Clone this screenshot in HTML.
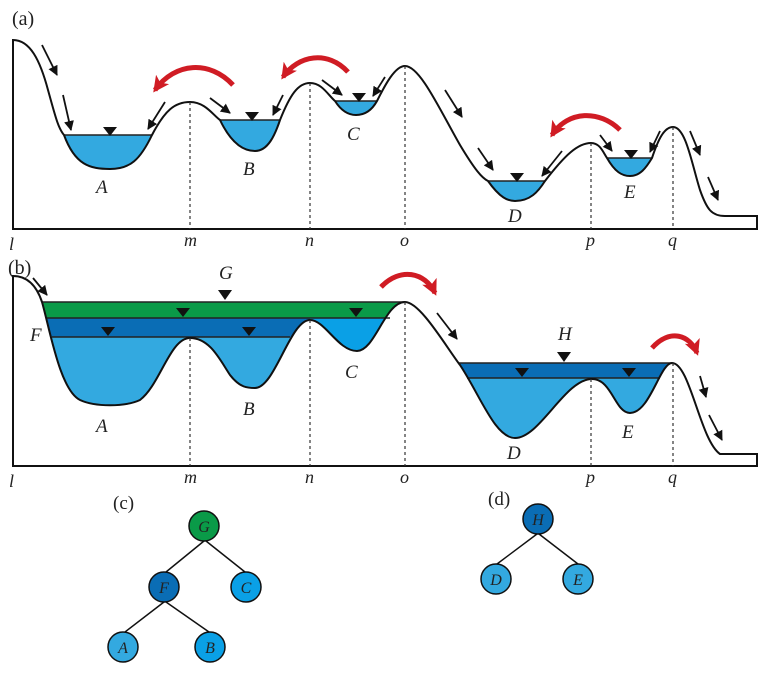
<!DOCTYPE html>
<html><head><meta charset="utf-8"><style>
html,body{margin:0;padding:0;background:#fff;}
svg{display:block;}
text{font-family:"Liberation Serif",serif;}
.it{font-style:italic;font-size:19px;fill:#222;}
.ax{font-style:italic;font-size:18px;fill:#222;}
</style></head><body>
<svg width="767" height="673" viewBox="0 0 767 673" xmlns="http://www.w3.org/2000/svg">
<defs>
<marker id="ah" markerWidth="10" markerHeight="10" refX="9" refY="5" orient="auto" markerUnits="userSpaceOnUse"><path d="M0,0 L10,5 L0,10 Z" fill="#111"/></marker>
<marker id="rh" markerWidth="18" markerHeight="18" refX="13" refY="9" orient="auto" markerUnits="userSpaceOnUse"><path d="M0,1 L16,9 L0,17 L4,9 Z" fill="#d01c24"/></marker>
<clipPath id="ca"><path d="M13,40 C30,40 40,60 48,90 C55,115 58,128 64,135 C75,165 90,169 110,169 C130,169 140,160 152,135 C165,110 175,102 190,102 C205,102 213,115 220,120 C232,145 245,151 255,151 C268,151 275,135 280,120 C290,95 298,83 310,83 C322,83 328,95 335,101 C342,112 350,115 356,115 C365,115 372,110 377,101 C385,85 395,66 405,66 C420,66 440,110 460,145 C475,170 482,178 488,181 C500,198 508,201 515,201 C530,201 538,192 545,181 C565,155 578,143 591,143 C600,143 603,152 607,158 C615,172 622,176 630,176 C640,176 646,168 652,158 C658,140 664,127 673,127 C686,127 692,165 700,190 C707,210 712,216 725,216 L757,216 L757,30 L13,30 Z"/></clipPath>
<clipPath id="cb"><path d="M13,276 C30,276 38,290 42,302 C50,330 60,390 80,400 C95,407 125,407 140,400 C160,385 170,338 190,338 C210,338 220,360 230,375 C240,388 248,388 255,388 C275,388 290,320 310,320 C325,320 338,351 357,351 C375,351 385,302 405,302 C420,302 445,345 460,365 C480,395 495,438 515,438 C540,438 565,379 592,379 C612,379 615,413 630,413 C650,413 660,363 672,363 C690,363 700,440 720,454 L757,454 L757,260 L13,260 Z"/></clipPath>
</defs>

<!-- Panel a -->
<text x="12" y="25" font-size="20" fill="#222">(a)</text>
<g clip-path="url(#ca)">
<rect x="13" y="135" width="177" height="100" fill="#33a9e0"/>
<rect x="190" y="120" width="120" height="100" fill="#33a9e0"/>
<rect x="310" y="101" width="95" height="100" fill="#33a9e0"/>
<rect x="405" y="181" width="186" height="100" fill="#33a9e0"/>
<rect x="591" y="158" width="82" height="100" fill="#33a9e0"/>
</g>
<g stroke="#222" stroke-width="1.5">
<line x1="64" y1="135" x2="152" y2="135"/><line x1="220" y1="120" x2="280" y2="120"/>
<line x1="335" y1="101" x2="377" y2="101"/><line x1="488" y1="181" x2="545" y2="181"/>
<line x1="607" y1="158" x2="652" y2="158"/>
</g>
<path d="M13,40 C30,40 40,60 48,90 C55,115 58,128 64,135 C75,165 90,169 110,169 C130,169 140,160 152,135 C165,110 175,102 190,102 C205,102 213,115 220,120 C232,145 245,151 255,151 C268,151 275,135 280,120 C290,95 298,83 310,83 C322,83 328,95 335,101 C342,112 350,115 356,115 C365,115 372,110 377,101 C385,85 395,66 405,66 C420,66 440,110 460,145 C475,170 482,178 488,181 C500,198 508,201 515,201 C530,201 538,192 545,181 C565,155 578,143 591,143 C600,143 603,152 607,158 C615,172 622,176 630,176 C640,176 646,168 652,158 C658,140 664,127 673,127 C686,127 692,165 700,190 C707,210 712,216 725,216 L757,216 L757,229 L13,229 Z" fill="none" stroke="#111" stroke-width="2"/>
<g stroke="#333" stroke-width="1.2" stroke-dasharray="3,3">
<line x1="190" y1="102" x2="190" y2="229"/><line x1="310" y1="83" x2="310" y2="229"/>
<line x1="405" y1="66" x2="405" y2="229"/><line x1="591" y1="143" x2="591" y2="229"/>
<line x1="673" y1="127" x2="673" y2="229"/>
</g>
<g fill="#111">
<path d="M103,127 L117,127 L110,136Z"/><path d="M245,112 L259,112 L252,121Z"/>
<path d="M352,93 L366,93 L359,102Z"/><path d="M510,173 L524,173 L517,182Z"/>
<path d="M624,150 L638,150 L631,159Z"/>
</g>
<g stroke="#111" stroke-width="1.8" marker-end="url(#ah)">
<line x1="42" y1="45" x2="57" y2="75"/><line x1="63" y1="95" x2="71" y2="130"/>
<line x1="165" y1="102" x2="148" y2="129"/><line x1="210" y1="98" x2="230" y2="113"/>
<line x1="283" y1="95" x2="273" y2="115"/><line x1="322" y1="80" x2="342" y2="95"/>
<line x1="385" y1="77" x2="373" y2="96"/><line x1="445" y1="90" x2="462" y2="117"/>
<line x1="478" y1="148" x2="493" y2="170"/><line x1="562" y1="151" x2="542" y2="176"/>
<line x1="600" y1="135" x2="612" y2="151"/><line x1="660" y1="131" x2="650" y2="152"/>
<line x1="690" y1="131" x2="700" y2="155"/><line x1="708" y1="177" x2="718" y2="200"/>
</g>
<g stroke="#d01c24" stroke-width="5" fill="none" marker-end="url(#rh)">
<path d="M233,85 C210,60 175,62 155,90"/>
<path d="M348,72 C328,50 298,55 283,77"/>
<path d="M620,130 C600,110 568,110 552,135"/>
</g>
<text class="it" x="96" y="193">A</text><text class="it" x="243" y="175">B</text>
<text class="it" x="347" y="140">C</text><text class="it" x="508" y="222">D</text>
<text class="it" x="624" y="198">E</text>
<g class="ax"><text x="9" y="250">l</text><text x="184" y="246">m</text><text x="305" y="246">n</text><text x="400" y="246">o</text><text x="586" y="246">p</text><text x="668" y="246">q</text></g>

<!-- Panel b -->
<text x="8" y="274" font-size="20" fill="#222">(b)</text>
<g clip-path="url(#cb)">
<rect x="13" y="302" width="392" height="16" fill="#0a9a48"/>
<rect x="13" y="318" width="297" height="19" fill="#0a6db5"/>
<rect x="13" y="337" width="297" height="120" fill="#33a9e0"/>
<rect x="310" y="318" width="95" height="120" fill="#0aa0e6"/>
<rect x="430" y="363" width="242" height="15" fill="#0a6db5"/>
<rect x="430" y="378" width="242" height="80" fill="#33a9e0"/>
</g>
<g stroke="#222" stroke-width="1.5">
<line x1="42" y1="302" x2="405" y2="302"/><line x1="46" y1="318" x2="390" y2="318"/>
<line x1="52" y1="337" x2="290" y2="337"/>
<line x1="458" y1="363" x2="672" y2="363"/><line x1="467" y1="378" x2="660" y2="378"/>
</g>
<path d="M13,276 C30,276 38,290 42,302 C50,330 60,390 80,400 C95,407 125,407 140,400 C160,385 170,338 190,338 C210,338 220,360 230,375 C240,388 248,388 255,388 C275,388 290,320 310,320 C325,320 338,351 357,351 C375,351 385,302 405,302 C420,302 445,345 460,365 C480,395 495,438 515,438 C540,438 565,379 592,379 C612,379 615,413 630,413 C650,413 660,363 672,363 C690,363 700,440 720,454 L757,454 L757,466 L13,466 Z" fill="none" stroke="#111" stroke-width="2"/>
<g stroke="#333" stroke-width="1.2" stroke-dasharray="3,3">
<line x1="190" y1="338" x2="190" y2="466"/><line x1="310" y1="320" x2="310" y2="466"/>
<line x1="405" y1="302" x2="405" y2="466"/><line x1="591" y1="379" x2="591" y2="466"/>
<line x1="673" y1="363" x2="673" y2="466"/>
</g>
<g fill="#111">
<path d="M218,290 L232,290 L225,300Z"/><path d="M176,308 L190,308 L183,317Z"/>
<path d="M349,308 L363,308 L356,317Z"/><path d="M101,327 L115,327 L108,336Z"/>
<path d="M242,327 L256,327 L249,336Z"/><path d="M557,352 L571,352 L564,362Z"/>
<path d="M515,368 L529,368 L522,377Z"/><path d="M622,368 L636,368 L629,377Z"/>
</g>
<g stroke="#111" stroke-width="1.8" marker-end="url(#ah)">
<line x1="33" y1="278" x2="47" y2="295"/><line x1="437" y1="313" x2="457" y2="339"/>
<line x1="700" y1="376" x2="706" y2="397"/><line x1="709" y1="415" x2="722" y2="440"/>
</g>
<g stroke="#d01c24" stroke-width="5" fill="none" marker-end="url(#rh)">
<path d="M381,287 C400,267 425,272 435,293"/>
<path d="M652,348 C670,328 690,335 697,353"/>
</g>
<text class="it" x="219" y="279">G</text><text class="it" x="30" y="341">F</text>
<text class="it" x="96" y="432">A</text><text class="it" x="243" y="415">B</text>
<text class="it" x="345" y="378">C</text><text class="it" x="507" y="459">D</text>
<text class="it" x="622" y="438">E</text><text class="it" x="558" y="340">H</text>
<g class="ax"><text x="9" y="487">l</text><text x="184" y="483">m</text><text x="305" y="483">n</text><text x="400" y="483">o</text><text x="586" y="483">p</text><text x="668" y="483">q</text></g>

<!-- Trees -->
<text x="113" y="509" font-size="19" fill="#222">(c)</text>
<text x="488" y="505" font-size="19" fill="#222">(d)</text>
<g stroke="#111" stroke-width="1.5">
<line x1="204" y1="541" x2="166" y2="572"/><line x1="206" y1="541" x2="245" y2="572"/>
<line x1="164" y1="602" x2="125" y2="632"/><line x1="166" y1="602" x2="209" y2="632"/>
<line x1="537" y1="534" x2="497" y2="564"/><line x1="539" y1="534" x2="578" y2="564"/>
</g>
<g stroke="#111" stroke-width="1.5">
<circle cx="204" cy="526" r="15" fill="#0a9a48"/>
<circle cx="164" cy="587" r="15" fill="#0a6db5"/>
<circle cx="246" cy="587" r="15" fill="#0aa0e6"/>
<circle cx="123" cy="647" r="15" fill="#33a9e0"/>
<circle cx="210" cy="647" r="15" fill="#0aa0e6"/>
<circle cx="538" cy="519" r="15" fill="#0a6db5"/>
<circle cx="496" cy="579" r="15" fill="#33a9e0"/>
<circle cx="578" cy="579" r="15" fill="#33a9e0"/>
</g>
<g font-style="italic" font-size="16" fill="#222" text-anchor="middle">
<text x="204" y="532">G</text><text x="164" y="593">F</text><text x="246" y="593">C</text>
<text x="123" y="653">A</text><text x="210" y="653">B</text>
<text x="538" y="525">H</text><text x="496" y="585">D</text><text x="578" y="585">E</text>
</g>
</svg>
</body></html>
